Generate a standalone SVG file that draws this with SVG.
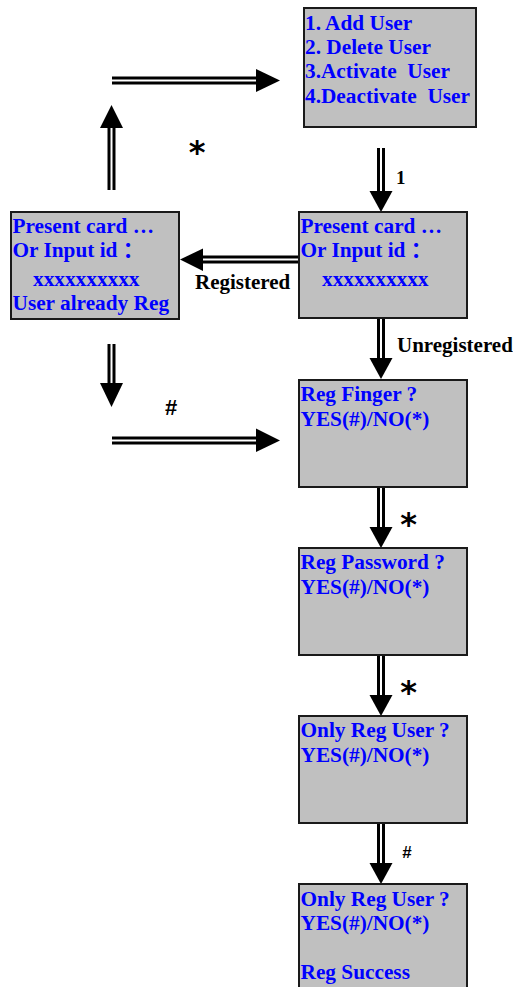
<svg xmlns="http://www.w3.org/2000/svg" width="513" height="987" viewBox="0 0 513 987">
<style>
.box{fill:#c0c0c0;stroke:#1a1a1a;stroke-width:2}
.t{font-family:"Liberation Serif","Noto Sans CJK SC",serif;font-weight:bold;font-size:21.3px;fill:#0000ff;white-space:pre}
.lb{font-family:"Liberation Serif",serif;font-weight:bold;font-size:21px;fill:#000}
.sym{font-family:"DejaVu Sans",sans-serif;font-weight:bold;fill:#000;text-anchor:middle}
.hs{font-family:"Liberation Sans",sans-serif;font-weight:bold;fill:#000;text-anchor:middle}
.o{stroke:#000;stroke-width:8;fill:none}
.i{stroke:#fff;stroke-width:2;fill:none}
.h{fill:#000}
</style>
<rect width="513" height="987" fill="#fff"/>
<g id="connectors">
  <g id="c-menu-present">
    <line class="o" x1="381" y1="148" x2="381" y2="192"/><line class="i" x1="381" y1="148" x2="381" y2="192"/>
    <polygon class="h" points="369.5,191 392.5,191 381,212"/>
  </g>
  <g id="c-present-registered">
    <line class="o" x1="299" y1="259.5" x2="202" y2="259.5"/><line class="i" x1="299" y1="259.5" x2="202" y2="259.5"/>
    <polygon class="h" points="203,248.5 203,271 180,259.5"/>
  </g>
  <g id="c-reg-up">
    <line class="o" x1="111.5" y1="190" x2="111.5" y2="127"/><line class="i" x1="111.5" y1="190" x2="111.5" y2="127"/>
    <polygon class="h" points="100,128 123,128 111.5,105"/>
  </g>
  <g id="c-top-right">
    <line class="o" x1="112" y1="80.5" x2="257" y2="80.5"/><line class="i" x1="112" y1="80.5" x2="257" y2="80.5"/>
    <polygon class="h" points="256,69 256,92 280,80.5"/>
  </g>
  <g id="c-reg-down">
    <line class="o" x1="111.5" y1="344" x2="111.5" y2="384"/><line class="i" x1="111.5" y1="344" x2="111.5" y2="384"/>
    <polygon class="h" points="100,383 123,383 111.5,407"/>
  </g>
  <g id="c-bottom-right">
    <line class="o" x1="112" y1="440.5" x2="257" y2="440.5"/><line class="i" x1="112" y1="440.5" x2="257" y2="440.5"/>
    <polygon class="h" points="256,428.5 256,452 280,440.5"/>
  </g>
  <g id="c-present-finger">
    <line class="o" x1="381" y1="318" x2="381" y2="359"/><line class="i" x1="381" y1="318" x2="381" y2="359"/>
    <polygon class="h" points="369.5,358 392.5,358 381,379"/>
  </g>
  <g id="c-finger-password">
    <line class="o" x1="381" y1="487" x2="381" y2="528"/><line class="i" x1="381" y1="487" x2="381" y2="528"/>
    <polygon class="h" points="369.5,527 392.5,527 381,548"/>
  </g>
  <g id="c-password-only">
    <line class="o" x1="381" y1="655" x2="381" y2="696"/><line class="i" x1="381" y1="655" x2="381" y2="696"/>
    <polygon class="h" points="369.5,695 392.5,695 381,716"/>
  </g>
  <g id="c-only-success">
    <line class="o" x1="381" y1="823" x2="381" y2="864"/><line class="i" x1="381" y1="823" x2="381" y2="864"/>
    <polygon class="h" points="369.5,863 392.5,863 381,884"/>
  </g>
  <text class="lb" x="396" y="184" style="font-size:19px">1</text>
  <text class="lb" x="195" y="288.5">Registered</text>
  <text class="lb" x="397" y="352">Unregistered</text>
  <text class="sym" x="197" y="163" style="font-size:32px">*</text>
  <text class="sym" x="408.5" y="535" style="font-size:32px">*</text>
  <text class="sym" x="408.5" y="703" style="font-size:32px">*</text>
  <text class="hs" x="171" y="415" style="font-size:22px">#</text>
  <text class="hs" x="407" y="858" style="font-size:17px">#</text>
</g>
<g id="menu">
  <rect class="box" x="304" y="8" width="172" height="119"/>
  <text class="t" x="305" y="30">1. Add User</text>
  <text class="t" x="305" y="54">2. Delete User</text>
  <text class="t" x="305" y="78">3.Activate  User</text>
  <text class="t" x="305" y="103">4.Deactivate  User</text>
</g>
<g id="already-reg">
  <rect class="box" x="11" y="212" width="168" height="107"/>
  <text class="t" x="12.5" y="233">Present card …</text>
  <text class="t" x="12.5" y="257">Or Input id ：</text>
  <text class="t" x="33" y="286">xxxxxxxxxx</text>
  <text class="t" x="12.5" y="310">User already Reg</text>
</g>
<g id="present-card">
  <rect class="box" x="299" y="212" width="168" height="106"/>
  <text class="t" x="300.5" y="233">Present card …</text>
  <text class="t" x="300.5" y="257">Or Input id ：</text>
  <text class="t" x="322" y="286">xxxxxxxxxx</text>
</g>
<g id="reg-finger">
  <rect class="box" x="299" y="380" width="168" height="107"/>
  <text class="t" x="300.5" y="401">Reg Finger ?</text>
  <text class="t" x="300.5" y="426">YES(#)/NO(*)</text>
</g>
<g id="reg-password">
  <rect class="box" x="299" y="548" width="168" height="107"/>
  <text class="t" x="300.5" y="569">Reg Password ?</text>
  <text class="t" x="300.5" y="594">YES(#)/NO(*)</text>
</g>
<g id="only-reg-user">
  <rect class="box" x="299" y="716" width="168" height="107"/>
  <text class="t" x="300.5" y="737">Only Reg User ?</text>
  <text class="t" x="300.5" y="762">YES(#)/NO(*)</text>
</g>
<g id="reg-success">
  <rect class="box" x="299" y="884" width="168" height="107"/>
  <text class="t" x="300.5" y="906">Only Reg User ?</text>
  <text class="t" x="300.5" y="930">YES(#)/NO(*)</text>
  <text class="t" x="300.5" y="979">Reg Success</text>
</g>
</svg>
